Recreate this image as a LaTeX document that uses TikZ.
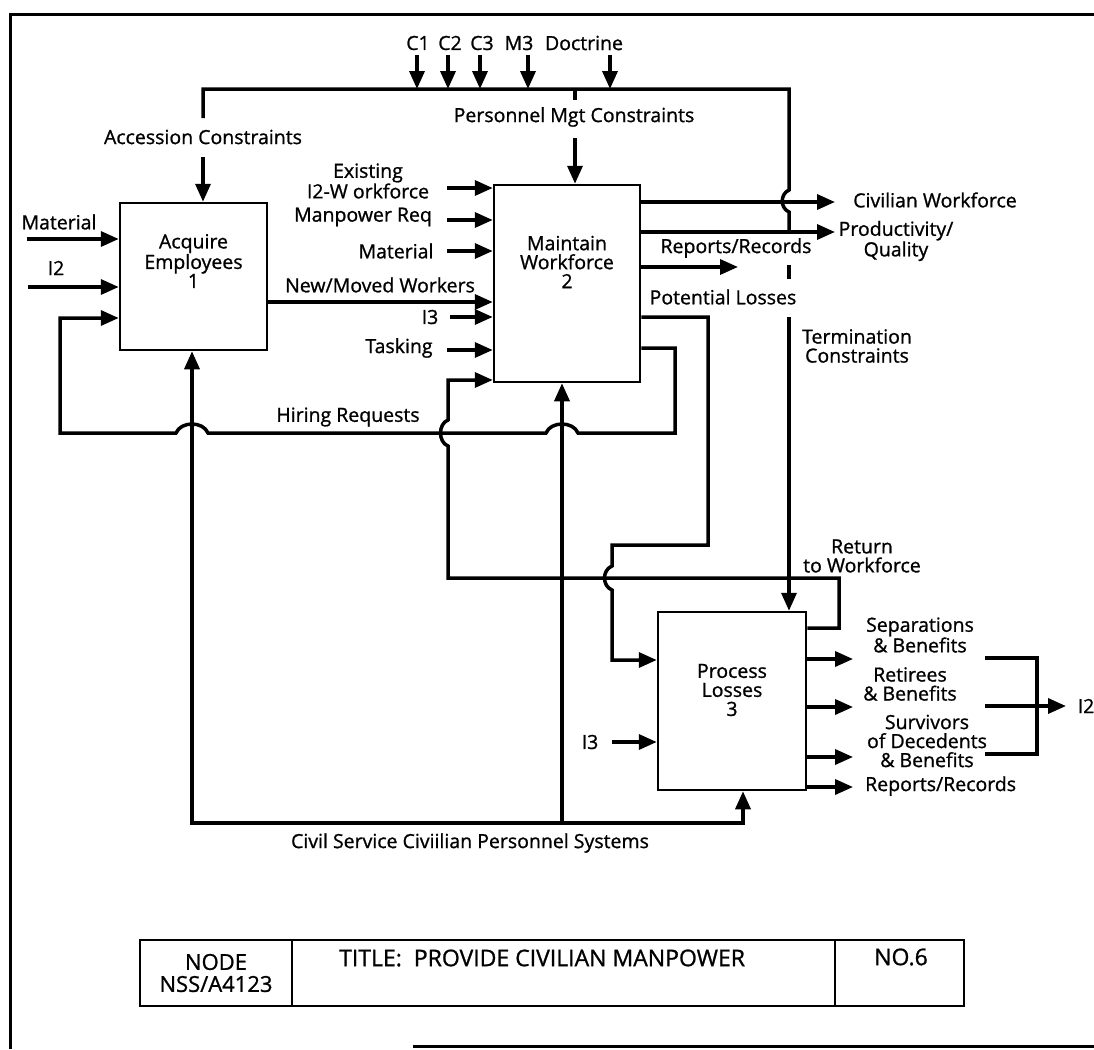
\documentclass[tikz,border=0pt]{standalone}
\usepackage{fontspec}
\setmainfont{Open Sans}[FakeBold=1]
\usetikzlibrary{positioning,arrows.meta,calc}

\begin{document}
\begin{tikzpicture}[
x=1pt,y=-1pt,
every node/.style={font=\fontsize{19.5}{19}\selectfont,inner sep=0pt,align=center},
procbox/.style={draw,line width=2.5pt,minimum width=147pt,minimum height=147pt},
titlebox/.style={draw,line width=2pt,outer sep=0pt,minimum height=66pt,font=\fontsize{22}{22}\selectfont},
wire/.style={line width=3.5pt},
flow/.style={->,line width=3.5pt},
>={Triangle[length=18pt,width=15pt]}]
\useasboundingbox (0,0) rectangle (1094,1049);
% frame
\draw[line width=3pt] (1094,15) -- (10,15) -- (10,1049);
\draw[line width=3pt] (413,1046) -- (1094,1046);

% activity boxes
\node (acq) [procbox] at (193.5,276.5) {};
\node (mnt) [procbox,minimum width=146pt,minimum height=197pt] at (567,283.5) {};
\node (prc) [procbox,minimum width=148pt,minimum height=178pt] at (732,701) {};
\node at (193.5,261) {Acquire\\Employees\\1};
\node at (567,262) {Maintain\\Workforce\\2};
\node at (732,690) {Process\\Losses\\3};

% controls
\coordinate (busL) at (203,89);
\coordinate (busR) at (789,89);
\node at (418,43) {C1};
\node at (450,43) {C2};
\node at (482,43) {C3};
\node at (519,43) {M3};
\node at (584,43) {Doctrine};
\foreach \name/\x in {C1/417,C2/448,C3/480,M3/528,Doc/610}{
  \coordinate (ctl\name) at (\x,55);
  \draw[flow] (ctl\name) -- (ctl\name |- busL);
}
\coordinate (accT) at (203,118);
\coordinate (accA) at (203,157);
\coordinate (pqJ) at (789,232);
\draw[wire] (accT) -- (busL) -- (busR) -- (789,190) .. controls (780,194) and (780,208) .. (789,212) -- (pqJ);
\node at (203,137) {Accession Constraints};
\draw[flow] (accA) -- (accA |- acq.north);
\coordinate (pmT) at (575,100);
\coordinate (pmA) at (575,138);
\draw[wire] (pmT |- busL) -- (pmT);
\node at (574,117) {Personnel Mgt Constraints};
\draw[flow] (pmA) -- (pmA |- mnt.north);

% inputs to 1
\node at (59,222) {Material};
\node at (56,268) {I2};
\coordinate (matA) at (27,239);
\coordinate (i2A) at (28,287);
\draw[flow] (matA) -- (matA -| acq.west);
\draw[flow] (i2A) -- (i2A -| acq.west);

% inputs to 2
\node at (368,181) {Existing\\I2-W orkforce};
\node at (363,217) {Manpower Req};
\node at (396,251) {Material};
\node at (380,285) {New/Moved Workers};
\node at (430,317) {I3};
\node at (399,348) {Tasking};
\coordinate (exA) at (447,188);
\coordinate (mpA) at (447,220);
\coordinate (mtA) at (447,251);
\coordinate (nmA) at (267,302);
\coordinate (i3A) at (450,317);
\coordinate (tkA) at (447,350);
\draw[flow] (exA) -- (exA -| mnt.west);
\draw[flow] (mpA) -- (mpA -| mnt.west);
\draw[flow] (mtA) -- (mtA -| mnt.west);
\draw[flow] (acq.east |- nmA) -- (nmA -| mnt.west);
\draw[flow] (i3A) -- (i3A -| mnt.west);
\draw[flow] (tkA) -- (tkA -| mnt.west);

% outputs of 2
\coordinate (cwA) at (835,202);
\coordinate (pqA) at (835,232);
\coordinate (rrA) at (738,267);
\draw[flow] (cwA -| mnt.east) -- (cwA);
\draw[flow] (pqA -| mnt.east) -- (pqA);
\draw[flow] (rrA -| mnt.east) -- (rrA);
\node at (935,200) {Civilian Workforce};
\node at (896,241) {Productivity/\\Quality};
\node at (736,248) {Reports/Records};
\node at (723,297) {Potential Losses};

% hiring requests loop
\coordinate (hrA) at (675,348);
\coordinate (hrB) at (60,318);
\draw[flow] (hrA -| mnt.east) -- (hrA) -- (675,433) -- (578,433) .. controls (573,421) and (551,421) .. (546,433)
  -- (208,433) .. controls (203,421) and (181,421) .. (176,433) -- (60,433) -- (hrB) -- (hrB -| acq.west);
\node at (348,417) {Hiring Requests};

% termination constraints
\coordinate (tcT) at (789,265);
\coordinate (tcA) at (789,317);
\draw[wire] (tcT) -- (789,279);
\draw[flow] (tcA) -- (tcA |- prc.north);
\node at (857,346) {Termination\\Constraints};

% potential losses
\coordinate (plA) at (708,317);
\coordinate (plB) at (612,660);
\draw[flow] (plA -| mnt.east) -- (plA) -- (708,545) -- (612,545) -- (612,566) .. controls (602,570) and (602,586) .. (612,590)
  -- (plB) -- (plB -| prc.west);

% return to workforce
\coordinate (rwA) at (839,628);
\coordinate (rwB) at (448,380);
\draw[flow] (rwA -| prc.east) -- (rwA) -- (839,578) -- (448,578) -- (448,446) .. controls (438,442) and (438,424) .. (448,420)
  -- (rwB) -- (rwB -| mnt.west);
\node at (862,556) {Return\\to Workforce};

% inputs and outputs of 3
\node at (590,742) {I3};
\coordinate (i3B) at (612,742);
\draw[flow] (i3B) -- (i3B -| prc.west);
\coordinate (sbA) at (853,659);
\coordinate (rbA) at (853,707);
\coordinate (sdA) at (853,757);
\coordinate (rpA) at (853,787);
\draw[flow] (sbA -| prc.east) -- (sbA);
\draw[flow] (rbA -| prc.east) -- (rbA);
\draw[flow] (sdA -| prc.east) -- (sdA);
\draw[flow] (rpA -| prc.east) -- (rpA);
\node at (920,635) {Separations\\\& Benefits};
\node at (910,684) {Retirees\\\& Benefits};
\node at (927,741) {Survivors\\of Decedents\\\& Benefits};
\node[anchor=west] at (865,786) {Reports/Records};
\coordinate (brT) at (985,658);
\coordinate (brM) at (985,706);
\coordinate (brB) at (985,754);
\coordinate (i2Out) at (1066,706);
\draw[wire] (brT) -- (1037,658) -- (1037,754) -- (brB);
\draw[flow] (brM) -- (i2Out);
\node at (1086,706) {I2};

% mechanisms
\coordinate (mechL) at (192,823);
\coordinate (mechM) at (562,823);
\coordinate (mechR) at (743,823);
\draw[<->,wire] (mechL |- acq.south) -- (mechL) -- (mechR) -- (mechR |- prc.south);
\draw[flow] (mechM) -- (mechM |- mnt.south);
\node at (470,843) {Civil Service Civiilian Personnel Systems};

% title block
\node (nodeid) [titlebox,minimum width=152pt] at (216,973) {NODE\\NSS/A4123};
\node (title) [titlebox,minimum width=543pt,right=0pt of nodeid] {};
\node (num) [titlebox,minimum width=129pt,right=0pt of title] {};
\node[anchor=west,font=\fontsize{23}{22}\selectfont] at (339,958) {TITLE:\ \ PROVIDE CIVILIAN MANPOWER};
\node[font=\fontsize{23}{22}\selectfont] at (901,957) {NO.6};
\end{tikzpicture}
\end{document}
